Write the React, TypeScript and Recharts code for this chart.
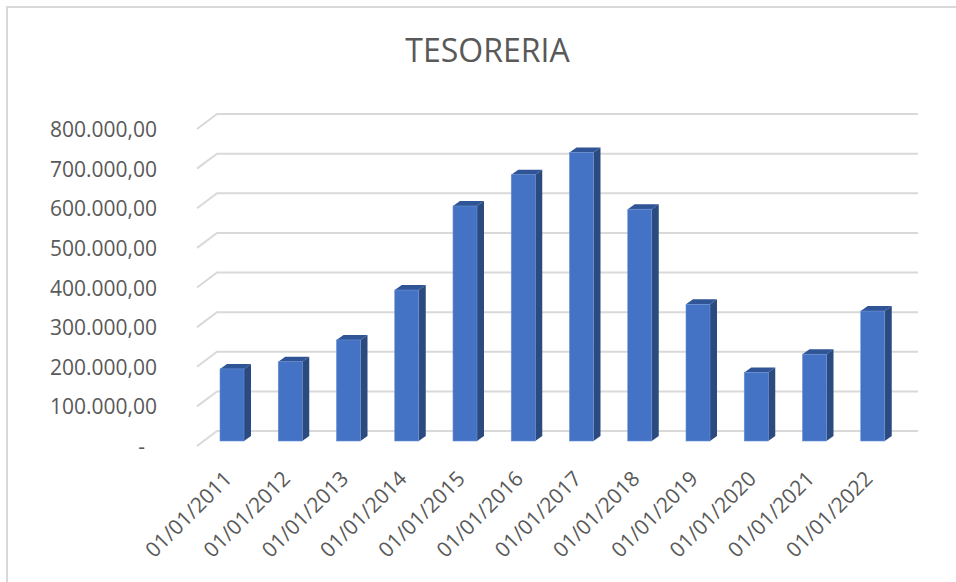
import { BarChart, Bar, XAxis, YAxis, CartesianGrid } from 'recharts';

const years = [
  '01/01/2011', '01/01/2012', '01/01/2013', '01/01/2014', '01/01/2015', '01/01/2016',
  '01/01/2017', '01/01/2018', '01/01/2019', '01/01/2020', '01/01/2021', '01/01/2022',
];
const tesoreria = [182000, 200000, 255000, 381000, 593000, 672000, 728000, 585000, 345000, 173000, 219000, 328000];
const yTicks = [0, 100000, 200000, 300000, 400000, 500000, 600000, 700000, 800000];

const data = years.map((year, i) => ({ year, value: tesoreria[i] }));

const TEXT = '#595959';
const FONT = '"Open Sans", sans-serif';

const fmt = (v: number) =>
  v === 0
    ? '-'
    : v.toLocaleString('de-DE', { minimumFractionDigits: 2, maximumFractionDigits: 2 });

// fake 3D column: front face, dark side, top cap
function Column3D(props: any) {
  const { x, y, width, height } = props;
  const dx = 7;
  const dy = 5;
  if (height <= 0) return null;
  return (
    <g>
      <polygon
        points={`${x},${y} ${x + dx},${y - dy} ${x + width + dx},${y - dy} ${x + width},${y}`}
        fill="#2f5597"
      />
      <polygon
        points={`${x + width},${y} ${x + width + dx},${y - dy} ${x + width + dx},${y + height - dy} ${x + width},${y + height}`}
        fill="#2b4a80"
      />
      <rect x={x} y={y} width={width} height={height} fill="#4472c4" stroke="#6a8fd3" strokeWidth={0.6} />
    </g>
  );
}

// gridline: short diagonal on the floor edge, then the back wall line
function GridLine3D(props: any) {
  const { x1, x2, y1 } = props;
  return (
    <path
      d={`M${x1 - 6},${y1 + 5} L${x1 + 14},${y1 - 10} L${x2 + 16},${y1 - 10}`}
      fill="none"
      stroke="#d9d9d9"
      strokeWidth={2}
    />
  );
}

function YTick(props: any) {
  const { x, y, payload } = props;
  const zero = payload.value === 0;
  return (
    <text
      x={zero ? x - 12 : x}
      y={y + 5}
      textAnchor="end"
      dominantBaseline="central"
      fill={TEXT}
      fontSize={21}
      fontFamily={FONT}
    >
      {fmt(payload.value)}
    </text>
  );
}

function XTick(props: any) {
  const { x, y, payload } = props;
  const tx = x + 1;
  const ty = y + 39;
  return (
    <text
      x={tx}
      y={ty}
      textAnchor="end"
      transform={`rotate(-45, ${tx}, ${ty})`}
      fill={TEXT}
      fontSize={21}
      fontFamily={FONT}
    >
      {payload.value}
    </text>
  );
}

export default function App() {
  return (
    <div
      style={{
        position: 'absolute',
        left: 0,
        top: 0,
        width: 956,
        height: 582,
        background: '#fff',
        overflow: 'hidden',
      }}
    >
      <div
        style={{
          position: 'absolute',
          left: 6,
          top: 6,
          width: 980,
          height: 620,
          borderTop: '2px solid #d9d9d9',
          borderLeft: '2px solid #d9d9d9',
        }}
      />
      <div
        style={{
          position: 'absolute',
          left: 0,
          top: 30,
          width: 975,
          textAlign: 'center',
          fontFamily: FONT,
          fontSize: 32,
          color: TEXT,
          lineHeight: '40px',
        }}
      >
        TESORERIA
      </div>
      <div style={{ position: 'absolute', left: 0, top: 0 }}>
        <BarChart
          width={956}
          height={582}
          data={data}
          margin={{ top: 124, right: 54, bottom: 41, left: 0 }}
          barSize={24}
        >
          <CartesianGrid vertical={false} horizontal={(p: any) => <GridLine3D key={p.key} {...p} />} />
          <XAxis
            dataKey="year"
            height={100}
            axisLine={false}
            tickLine={false}
            tickSize={0}
            tickMargin={0}
            interval={0}
            tick={<XTick />}
          />
          <YAxis
            width={203}
            domain={[0, 800000]}
            ticks={yTicks}
            axisLine={false}
            tickLine={false}
            tickSize={0}
            tickMargin={46}
            tick={<YTick />}
          />
          <Bar dataKey="value" isAnimationActive={false} shape={(p: any) => <Column3D {...p} />} />
        </BarChart>
      </div>
    </div>
  );
}
